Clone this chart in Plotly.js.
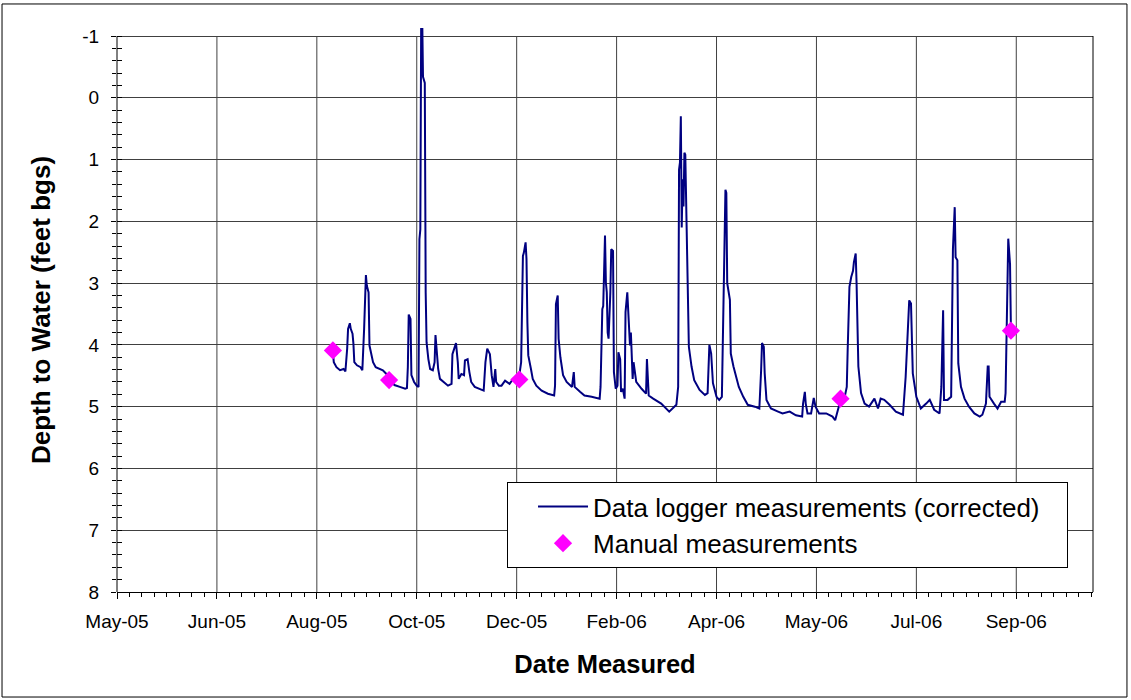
<!DOCTYPE html>
<html>
<head>
<meta charset="utf-8">
<script src="https://cdn.plot.ly/plotly-3.0.1.min.js"></script>
<style>
  html, body { margin: 0; padding: 0; background: #ffffff; }
  #chart { width: 1131px; height: 700px; }
</style>
</head>
<body>
<div id="chart"></div>
<script>
// ---- Data logger series (depth to water, feet bgs) ----
const loggerDates = [
  "2005-08-30","2005-08-30 12:00","2005-09-01","2005-09-03","2005-09-05","2005-09-06","2005-09-07","2005-09-07 12:00",
  "2005-09-08 12:00","2005-09-09","2005-09-10","2005-09-10 12:00","2005-09-11","2005-09-12 12:00","2005-09-14 12:00",
  "2005-09-15 12:00","2005-09-16 12:00","2005-09-17","2005-09-17 12:00","2005-09-18","2005-09-19","2005-09-19 12:00",
  "2005-09-20 12:00","2005-09-21 12:00","2005-09-23","2005-09-25","2005-09-27","2005-09-29","2005-10-01","2005-10-03 12:00",
  "2005-10-06 12:00","2005-10-09 12:00","2005-10-10 12:00","2005-10-11","2005-10-11 12:00","2005-10-12 12:00","2005-10-13",
  "2005-10-14 12:00","2005-10-16","2005-10-17","2005-10-17 12:00","2005-10-18","2005-10-18 12:00","2005-10-19",
  "2005-10-19 12:00","2005-10-20 12:00","2005-10-21","2005-10-21 12:00","2005-10-22 12:00","2005-10-23 12:00","2005-10-25",
  "2005-10-26","2005-10-26 12:00","2005-10-27","2005-10-28","2005-10-29","2005-10-31","2005-11-02 12:00","2005-11-04 12:00",
  "2005-11-05","2005-11-06","2005-11-07","2005-11-08","2005-11-08 12:00","2005-11-10","2005-11-11 12:00","2005-11-12",
  "2005-11-13 12:00","2005-11-14 12:00","2005-11-15 12:00","2005-11-17 12:00","2005-11-20 12:00","2005-11-22 12:00",
  "2005-11-23 12:00","2005-11-24 12:00","2005-11-26","2005-11-27","2005-11-28","2005-11-29","2005-11-29 12:00","2005-12-01",
  "2005-12-02 12:00","2005-12-04 12:00","2005-12-07","2005-12-09","2005-12-12 12:00","2005-12-13 12:00","2005-12-14 12:00",
  "2005-12-15","2005-12-16","2005-12-16 12:00","2005-12-17","2005-12-17 12:00","2005-12-19","2005-12-20","2005-12-22",
  "2005-12-25","2005-12-28 12:00","2006-01-01","2006-01-01 12:00","2006-01-02","2006-01-03","2006-01-03 12:00",
  "2006-01-04 12:00","2006-01-06","2006-01-08","2006-01-11","2006-01-12","2006-01-12 12:00","2006-01-15 12:00","2006-01-18",
  "2006-01-22","2006-01-26 12:00","2006-01-27","2006-01-28","2006-01-28 12:00","2006-01-29 12:00","2006-01-30",
  "2006-01-30 12:00","2006-01-31","2006-01-31 12:00","2006-02-01 12:00","2006-02-02","2006-02-03","2006-02-03 12:00",
  "2006-02-04 12:00","2006-02-05 12:00","2006-02-06","2006-02-07","2006-02-07 12:00","2006-02-08 12:00","2006-02-09 12:00",
  "2006-02-10","2006-02-11","2006-02-12","2006-02-12 12:00","2006-02-13","2006-02-14","2006-02-14 12:00","2006-02-16",
  "2006-02-19","2006-02-21 12:00","2006-02-22","2006-02-23","2006-02-25 12:00","2006-03-02",
  "2006-03-06 12:00","2006-03-10 12:00","2006-03-11 12:00","2006-03-12","2006-03-12 12:00","2006-03-13","2006-03-13 12:00",
  "2006-03-14","2006-03-14 12:00","2006-03-15","2006-03-15 12:00","2006-03-16","2006-03-16 12:00","2006-03-17 12:00",
  "2006-03-19","2006-03-20 12:00","2006-03-23 12:00","2006-03-26 12:00","2006-03-28","2006-03-29","2006-03-30","2006-03-31",
  "2006-04-02","2006-04-03 12:00","2006-04-05","2006-04-06","2006-04-07","2006-04-07 12:00","2006-04-08","2006-04-09 12:00",
  "2006-04-10","2006-04-11 12:00","2006-04-12 12:00","2006-04-14 12:00","2006-04-17","2006-04-19 12:00","2006-04-23 12:00",
  "2006-04-26","2006-04-27","2006-04-27 12:00","2006-04-28 12:00","2006-04-29","2006-04-30","2006-05-02 12:00",
  "2006-05-06 12:00","2006-05-09","2006-05-13","2006-05-16 12:00","2006-05-20","2006-05-20 12:00","2006-05-21 12:00",
  "2006-05-22","2006-05-23","2006-05-25","2006-05-26 12:00","2006-05-27 12:00","2006-05-29 12:00","2006-06-02 12:00",
  "2006-06-06","2006-06-07 12:00","2006-06-08 12:00","2006-06-10","2006-06-12 12:00","2006-06-14","2006-06-14 12:00",
  "2006-06-15 12:00","2006-06-16 12:00","2006-06-17 12:00","2006-06-18","2006-06-19","2006-06-19 12:00","2006-06-20 12:00",
  "2006-06-22","2006-06-24","2006-06-26 12:00","2006-06-28 12:00","2006-06-29 12:00","2006-07-01 12:00","2006-07-03",
  "2006-07-05","2006-07-08","2006-07-11 12:00","2006-07-15 12:00","2006-07-17","2006-07-18","2006-07-19","2006-07-20",
  "2006-07-21","2006-07-23","2006-07-25 12:00","2006-07-28 12:00","2006-07-30 12:00","2006-08-02","2006-08-05","2006-08-06",
  "2006-08-06 12:00","2006-08-07","2006-08-07 12:00","2006-08-09 12:00","2006-08-11 12:00","2006-08-12 12:00",
  "2006-08-13 12:00","2006-08-14","2006-08-15","2006-08-15 12:00","2006-08-17","2006-08-19","2006-08-21 12:00",
  "2006-08-24 12:00","2006-08-27 12:00","2006-08-29","2006-08-31","2006-09-01","2006-09-01 12:00","2006-09-02",
  "2006-09-04 12:00","2006-09-06 12:00","2006-09-08 12:00","2006-09-10 12:00","2006-09-11","2006-09-12","2006-09-12 12:00",
  "2006-09-13 12:00","2006-09-14"
];
const loggerDepth = [
  4.12,4.28,4.36,4.41,4.39,4.43,4.06,3.74,
  3.65,3.74,3.82,3.98,4.28,4.33,4.36,
  4.41,3.74,3.15,2.87,3.04,3.15,4.01,
  4.15,4.28,4.36,4.39,4.41,4.47,4.55,4.65,
  4.68,4.71,4.70,4.36,3.51,3.58,4.49,
  4.60,4.66,4.68,2.29,2.13,-1.4,-1.4,
  -0.34,-0.24,3.15,3.96,4.23,4.39,4.41,
  4.28,3.84,4.09,4.39,4.55,4.60,4.66,4.63,
  4.15,4.06,3.97,4.28,4.55,4.47,4.49,4.25,
  4.23,4.44,4.60,4.68,4.71,4.74,
  4.28,4.06,4.15,4.49,4.68,4.39,4.60,4.66,
  4.66,4.58,4.63,4.55,4.49,4.28,2.56,
  2.51,2.34,2.61,3.63,4.17,4.39,4.55,4.66,
  4.74,4.79,4.82,4.66,3.34,3.20,3.90,
  4.20,4.49,4.60,4.68,4.44,4.68,4.76,4.82,
  4.84,4.87,4.68,3.42,3.37,2.23,2.99,
  3.15,3.80,3.90,3.15,2.45,2.48,4.44,
  4.71,4.66,4.12,4.23,4.76,4.71,4.87,
  3.47,3.15,3.74,4.01,3.80,4.55,4.28,4.60,
  4.71,4.79,4.23,4.82,4.87,4.95,
  5.08,4.97,4.68,1.16,1.05,0.30,2.10,
  1.32,1.76,0.89,0.92,1.86,2.89,4.03,
  4.35,4.57,4.73,4.81,4.78,4.00,4.14,4.62,
  4.84,4.89,4.84,3.22,1.49,1.54,3.00,3.27,
  4.14,4.35,4.46,4.68,4.84,4.97,5.00,
  5.03,4.41,3.97,4.03,4.46,4.89,5.03,
  5.08,5.11,5.08,5.14,5.16,4.95,4.76,
  4.95,5.11,5.11,4.86,5.00,5.11,5.11,
  5.16,5.22,5.11,4.95,4.89,4.68,4.09,
  3.06,2.90,2.80,2.66,2.52,3.01,4.35,
  4.78,4.95,5.00,4.92,4.87,5.03,4.87,
  4.89,4.97,5.08,5.13,4.52,3.76,3.28,3.33,
  4.46,4.84,5.03,4.95,4.89,5.05,5.11,4.68,
  3.63,3.44,4.89,4.89,4.84,2.45,
  1.77,2.58,2.63,4.30,4.68,4.87,5.00,
  5.11,5.16,5.13,4.95,4.35,4.35,4.84,
  4.95,5.03,4.92,4.92,4.78,2.69,2.28,
  2.69,3.76
];

// ---- Manual measurements ----
const manualDates = ["2005-08-30", "2005-09-30 12:00", "2005-12-12 12:00", "2006-06-10 12:00", "2006-09-14"];
const manualDepth = [4.09, 4.57, 4.56, 4.87, 3.77];

// ---- Axis ticks ----
const xTickVals = ["2005-05-01","2005-06-26","2005-08-21","2005-10-16","2005-12-11","2006-02-05","2006-04-02","2006-05-28","2006-07-23","2006-09-17"];
const xTickText = ["May-05","Jun-05","Aug-05","Oct-05","Dec-05","Feb-06","Apr-06","May-06","Jul-06","Sep-06"];
const yTickVals = [-1, 0, 1, 2, 3, 4, 5, 6, 7, 8];
const yTickText = ["-1", "0", "1", "2", "3", "4", "5", "6", "7", "8"];

const FONT = "'Liberation Sans', Arial, sans-serif";
const GRID = "#404040";
const PAD = "\u00a0\u00a0\u00a0";

const traces = [
  {
    x: loggerDates, y: loggerDepth, type: "scatter", mode: "lines",
    name: "Data logger measurements (corrected)" + PAD,
    line: { color: "#000080", width: 2 }
  },
  {
    x: manualDates, y: manualDepth, type: "scatter", mode: "markers",
    name: "Manual measurements",
    marker: { symbol: "diamond", color: "#FF00FF", size: 14, line: { width: 0 } }
  },
  // empty trace to carry the overlay axis (inside half of the crossing minor ticks)
  { x: [], y: [], type: "scatter", mode: "lines", yaxis: "y2", showlegend: false, hoverinfo: "skip" }
];

const shapes = [];
// vertical gridlines (stop at the -1 line)
xTickVals.slice(1).forEach(v => {
  shapes.push({ type: "line", xref: "x", yref: "y", x0: v, x1: v, y0: yTickVals[0], y1: yTickVals[yTickVals.length - 1],
    line: { color: GRID, width: 1 }, layer: "below" });
});
// left axis line and right border of plot area
shapes.push({ type: "line", xref: "paper", yref: "y", x0: 0, x1: 0, y0: yTickVals[0], y1: yTickVals[yTickVals.length - 1], line: { color: "#000", width: 1 } });
shapes.push({ type: "line", xref: "paper", yref: "y", x0: 1, x1: 1, y0: yTickVals[0], y1: yTickVals[yTickVals.length - 1], line: { color: "#000", width: 1 } });
// outer chart border
shapes.push({ type: "rect", xref: "paper", yref: "paper", x0: -0.1178, x1: 1.0348, y0: -0.1862, y1: 1.0426, line: { color: "#000", width: 1 }, fillcolor: "rgba(0,0,0,0)" });

const layout = {
  width: 1131, height: 700,
  margin: { l: 117, r: 38, t: 28, b: 108 },
  paper_bgcolor: "#ffffff", plot_bgcolor: "#ffffff",
  font: { family: FONT, color: "#000", size: 19 },
  showlegend: true,
  xaxis: {
    type: "date",
    range: ["2005-05-01", "2006-10-30"],
    tickmode: "array", tickvals: xTickVals, ticktext: xTickText,
    ticks: "outside", ticklen: 6, tickcolor: "#000", tickwidth: 1,
    showline: true, linecolor: "#000", linewidth: 1,
    showgrid: false, zeroline: false,
    tickfont: { family: FONT, size: 19, color: "#000" },
    ticklabelstandoff: 6,
    minor: { tickmode: "linear", tick0: "2005-05-01", dtick: 7 * 86400000, ticks: "outside", ticklen: 4, tickcolor: "#000", showgrid: false },
    title: { text: "Date Measured", font: { family: FONT, size: 25.5, color: "#000", weight: "bold" }, standoff: 24 }
  },
  yaxis: {
    range: [8, -1.13],
    tickmode: "array", tickvals: yTickVals, ticktext: yTickText,
    ticks: "outside", ticklen: 5, tickcolor: "#000", tickwidth: 1,
    showline: false, showgrid: true, gridcolor: GRID, gridwidth: 1, zeroline: false,
    tickfont: { family: FONT, size: 19, color: "#000" },
    ticklabelstandoff: 8,
    minor: { tickmode: "linear", tick0: -1, dtick: 0.2, ticks: "outside", ticklen: 4, tickcolor: "#000", showgrid: false },
    title: { text: "Depth to Water (feet bgs)", font: { family: FONT, size: 26, color: "#000", weight: "bold" }, standoff: 24 }
  },
  yaxis2: {
    overlaying: "y", side: "left", anchor: "x",
    range: [8, -1.13],
    tickmode: "array", tickvals: yTickVals, ticks: "", showticklabels: false,
    showline: false, showgrid: false, zeroline: false,
    minor: { tickmode: "linear", tick0: -1, dtick: 0.2, ticks: "inside", ticklen: 5, tickcolor: "#000", showgrid: false }
  },
  legend: {
    x: 0.3996, y: 0.195, xanchor: "left", yanchor: "top",
    bgcolor: "#ffffff", bordercolor: "#000", borderwidth: 1,
    font: { family: FONT, size: 26, color: "#000" },
    itemwidth: 50, indentation: 25
  },
  shapes: shapes
};

Plotly.newPlot("chart", traces, layout, { displayModeBar: false, staticPlot: true });
</script>
</body>
</html>
